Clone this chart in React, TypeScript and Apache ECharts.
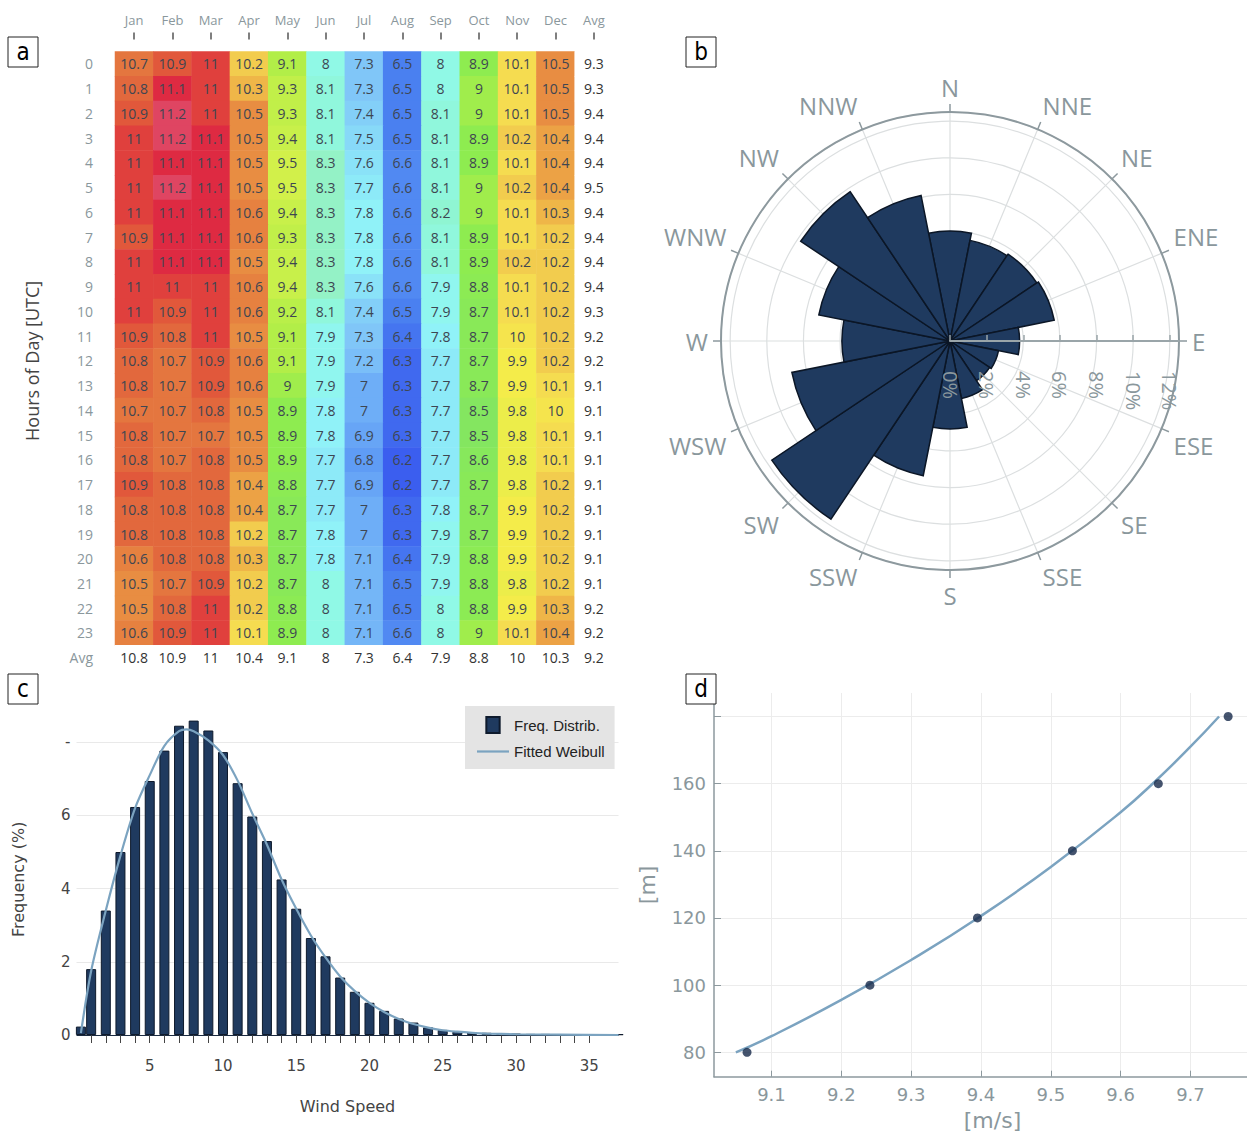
import React, { useEffect, useRef } from 'react';
import * as echarts from 'echarts';

// ---------- Panel a: hourly x monthly mean wind speed ----------
const months = ['Jan', 'Feb', 'Mar', 'Apr', 'May', 'Jun', 'Jul', 'Aug', 'Sep', 'Oct', 'Nov', 'Dec'];
const monthCols = [...months, 'Avg'];
const hourRows = ['0', '1', '2', '3', '4', '5', '6', '7', '8', '9', '10', '11', '12', '13', '14', '15', '16', '17', '18', '19', '20', '21', '22', '23', 'Avg'];

const speedByHour: number[][] = [
  [10.7, 10.9, 11, 10.2, 9.1, 8, 7.3, 6.5, 8, 8.9, 10.1, 10.5],
  [10.8, 11.1, 11, 10.3, 9.3, 8.1, 7.3, 6.5, 8, 9, 10.1, 10.5],
  [10.9, 11.2, 11, 10.5, 9.3, 8.1, 7.4, 6.5, 8.1, 9, 10.1, 10.5],
  [11, 11.2, 11.1, 10.5, 9.4, 8.1, 7.5, 6.5, 8.1, 8.9, 10.2, 10.4],
  [11, 11.1, 11.1, 10.5, 9.5, 8.3, 7.6, 6.6, 8.1, 8.9, 10.1, 10.4],
  [11, 11.2, 11.1, 10.5, 9.5, 8.3, 7.7, 6.6, 8.1, 9, 10.2, 10.4],
  [11, 11.1, 11.1, 10.6, 9.4, 8.3, 7.8, 6.6, 8.2, 9, 10.1, 10.3],
  [10.9, 11.1, 11.1, 10.6, 9.3, 8.3, 7.8, 6.6, 8.1, 8.9, 10.1, 10.2],
  [11, 11.1, 11.1, 10.5, 9.4, 8.3, 7.8, 6.6, 8.1, 8.9, 10.2, 10.2],
  [11, 11, 11, 10.6, 9.4, 8.3, 7.6, 6.6, 7.9, 8.8, 10.1, 10.2],
  [11, 10.9, 11, 10.6, 9.2, 8.1, 7.4, 6.5, 7.9, 8.7, 10.1, 10.2],
  [10.9, 10.8, 11, 10.5, 9.1, 7.9, 7.3, 6.4, 7.8, 8.7, 10, 10.2],
  [10.8, 10.7, 10.9, 10.6, 9.1, 7.9, 7.2, 6.3, 7.7, 8.7, 9.9, 10.2],
  [10.8, 10.7, 10.9, 10.6, 9, 7.9, 7, 6.3, 7.7, 8.7, 9.9, 10.1],
  [10.7, 10.7, 10.8, 10.5, 8.9, 7.8, 7, 6.3, 7.7, 8.5, 9.8, 10],
  [10.8, 10.7, 10.7, 10.5, 8.9, 7.8, 6.9, 6.3, 7.7, 8.5, 9.8, 10.1],
  [10.8, 10.7, 10.8, 10.5, 8.9, 7.7, 6.8, 6.2, 7.7, 8.6, 9.8, 10.1],
  [10.9, 10.8, 10.8, 10.4, 8.8, 7.7, 6.9, 6.2, 7.7, 8.7, 9.8, 10.2],
  [10.8, 10.8, 10.8, 10.4, 8.7, 7.7, 7, 6.3, 7.8, 8.7, 9.9, 10.2],
  [10.8, 10.8, 10.8, 10.2, 8.7, 7.8, 7, 6.3, 7.9, 8.7, 9.9, 10.2],
  [10.6, 10.8, 10.8, 10.3, 8.7, 7.8, 7.1, 6.4, 7.9, 8.8, 9.9, 10.2],
  [10.5, 10.7, 10.9, 10.2, 8.7, 8, 7.1, 6.5, 7.9, 8.8, 9.8, 10.2],
  [10.5, 10.8, 11, 10.2, 8.8, 8, 7.1, 6.5, 8, 8.8, 9.9, 10.3],
  [10.6, 10.9, 11, 10.1, 8.9, 8, 7.1, 6.6, 8, 9, 10.1, 10.4],
];
const hourAvg = [9.3, 9.3, 9.4, 9.4, 9.4, 9.5, 9.4, 9.4, 9.4, 9.4, 9.3, 9.2, 9.2, 9.1, 9.1, 9.1, 9.1, 9.1, 9.1, 9.1, 9.1, 9.1, 9.2, 9.2];
const monthAvg = [10.8, 10.9, 11, 10.4, 9.1, 8, 7.3, 6.4, 7.9, 8.8, 10, 10.3];
const overallAvg = 9.2;

// ---------- Panel b: wind rose ----------
const directions = ['N', 'NNE', 'NE', 'ENE', 'E', 'ESE', 'SE', 'SSE', 'S', 'SSW', 'SW', 'WSW', 'W', 'WNW', 'NW', 'NNW'];
const directionFreq = [6.0, 5.6, 5.7, 5.8, 3.8, 2.7, 2.6, 3.2, 4.8, 7.5, 11.7, 8.8, 5.9, 7.3, 9.8, 8.1];

// ---------- Panel c: wind speed distribution ----------
const windSpeedBins = [0.3, 1, 2, 3, 4, 5, 6, 7, 8, 9, 10, 11, 12, 13, 14, 15, 16, 17, 18, 19, 20, 21, 22, 23, 24, 25, 26, 27, 28, 29, 30, 31, 32, 33, 34, 35, 36, 37];
const windSpeedFreq = [0.23, 1.8, 3.4, 5.0, 6.23, 6.94, 7.77, 8.45, 8.59, 8.32, 7.73, 6.88, 5.97, 5.3, 4.25, 3.45, 2.65, 2.15, 1.57, 1.18, 0.88, 0.66, 0.45, 0.34, 0.21, 0.14, 0.09, 0.07, 0.06, 0.05, 0.04, 0.03, 0.03, 0.02, 0.02, 0.02, 0.02, 0.02];
const weibullSpeed = [0.3, 1, 2, 3, 4, 5, 6, 7, 7.5, 8, 9, 10, 11, 12, 13, 14, 15, 16, 17, 18, 19, 20, 21, 22, 23, 24, 25, 26, 27, 28, 30, 33, 37];
const weibullFreq = [0.05, 1.75, 3.4, 4.9, 6.2, 7.1, 7.9, 8.3, 8.35, 8.3, 8.05, 7.65, 6.95, 6.05, 5.2, 4.25, 3.45, 2.72, 2.12, 1.6, 1.2, 0.88, 0.63, 0.44, 0.3, 0.2, 0.13, 0.09, 0.06, 0.04, 0.02, 0.01, 0.0];
const histMinorTicks = [1, 2, 3, 4, 5, 6, 7, 8, 9, 10, 11, 12, 13, 14, 15, 16, 17, 18, 19, 20, 21, 22, 23, 24, 25, 26, 27, 28, 29, 30, 31, 32, 33, 34, 35];
const histLabels = [5, 10, 15, 20, 25, 30, 35];
const freqTicks = [0, 2, 4, 6, 8];

// ---------- Panel d: wind speed vs height ----------
const meanSpeed = [9.065, 9.241, 9.395, 9.531, 9.654, 9.754];
const heightM = [80, 100, 120, 140, 160, 180];
const fitSpeed = [9.049, 9.1, 9.2, 9.3, 9.4, 9.5, 9.6, 9.65, 9.7, 9.741];
const fitHeight = [80, 84.8, 95.6, 107.5, 120.6, 135.2, 151.5, 160.8, 171, 180];
const speedTicks = [9.1, 9.2, 9.3, 9.4, 9.5, 9.6, 9.7];
const heightTicks = [80, 100, 120, 140, 160, 180];
const heightLabels = [80, 100, 120, 140, 160];

// ---------- colour scale for the heatmap ----------
const colorStops: [number, string][] = [
  [6.2, '#3b5eef'], [6.5, '#4a80f0'], [6.8, '#5f9cf5'], [7.0, '#6eaef7'], [7.3, '#80c6f8'],
  [7.6, '#8ae2f8'], [7.8, '#90f2f8'], [8.0, '#90f9e6'], [8.2, '#8ff5d2'], [8.35, '#96f0c0'],
  [8.5, '#84e660'], [8.9, '#8eec50'], [9.1, '#b2ee48'], [9.4, '#c8f04a'], [9.6, '#dcf04a'],
  [9.9, '#f4ec4a'], [10.1, '#f5dc50'], [10.2, '#f2cc4e'], [10.3, '#efb648'], [10.5, '#e88d42'],
  [10.7, '#e4763f'], [10.8, '#e2683d'], [10.9, '#e1583b'], [11.0, '#e0403d'], [11.1, '#de2a42'], [11.2, '#df4562'],
];
const SCALE_MIN = 6.2;
const SCALE_MAX = 11.2;
function hexToRgb(h: string) {
  return [parseInt(h.slice(1, 3), 16), parseInt(h.slice(3, 5), 16), parseInt(h.slice(5, 7), 16)];
}
function colorFor(v: number) {
  if (v <= colorStops[0][0]) return colorStops[0][1];
  for (let i = 1; i < colorStops.length; i++) {
    const [v1, c1] = colorStops[i];
    const [v0, c0] = colorStops[i - 1];
    if (v <= v1 + 1e-9) {
      const t = Math.min(1, (v - v0) / (v1 - v0));
      const a = hexToRgb(c0);
      const b = hexToRgb(c1);
      const m = a.map((x, k) => Math.round(x + (b[k] - x) * t));
      return `rgb(${m[0]},${m[1]},${m[2]})`;
    }
  }
  return colorStops[colorStops.length - 1][1];
}
// evenly spaced palette (0.05 steps) for the continuous visualMap
function buildPalette() {
  const out: string[] = [];
  const n = Math.round((SCALE_MAX - SCALE_MIN) / 0.05);
  for (let i = 0; i <= n; i++) out.push(colorFor(SCALE_MIN + i * 0.05));
  return out;
}

const GRAY = '#8a979c';
const CENTER = [950, 341];
const ROSE_R = 229;

function buildOption() {
  const heatData: number[][] = [];
  speedByHour.forEach((row, r) => {
    row.forEach((v, c) => heatData.push([c, r, v]));
  });
  const avgData: number[][] = [];
  hourAvg.forEach((v, r) => avgData.push([12, r, v]));
  monthAvg.forEach((v, c) => avgData.push([c, 24, v]));
  avgData.push([12, 24, overallAvg]);

  const boxes = [
    { t: 'a', x: 8, y: 37 },
    { t: 'b', x: 686, y: 37 },
    { t: 'c', x: 8, y: 674 },
    { t: 'd', x: 686, y: 674 },
  ];
  const graphic: any[] = [];
  boxes.forEach((b) => {
    graphic.push({
      type: 'rect', shape: { x: b.x, y: b.y, width: 30, height: 30 },
      style: { fill: '#fff', stroke: '#222', lineWidth: 1 }, z: 100,
    });
    graphic.push({
      type: 'text', x: b.x + 15, y: b.y + 15, z: 101,
      style: { text: b.t, align: 'center', verticalAlign: 'middle', font: '24px "DejaVu Sans Condensed"', fill: '#000' },
    });
  });

  return {
    animation: false,
    backgroundColor: '#ffffff',
    textStyle: { fontFamily: 'Open Sans' },
    graphic,
    visualMap: [
      {
        type: 'continuous', show: false, seriesIndex: 0, dimension: 2,
        min: SCALE_MIN, max: SCALE_MAX,
        inRange: { color: buildPalette() },
      },
      {
        type: 'continuous', show: false, seriesIndex: 1, dimension: 2,
        min: 0, max: 20,
        inRange: { color: ['#ffffff', '#ffffff'] },
      },
    ],
    grid: [
      { left: 115, top: 51.6, width: 498, height: 618.5 },
      { left: 76.5, top: 705.6, width: 542, height: 329.4 },
      { left: 714, top: 693, width: 533, height: 383.7 },
    ],
    legend: {
      data: [
        { name: 'Freq. Distrib.', icon: 'path://M0 0H10V12H0Z' },
        { name: 'Fitted Weibull', icon: 'path://M0 0H32V2.2H0Z' },
      ],
      orient: 'vertical',
      left: 465, top: 706,
      itemWidth: 32, itemHeight: 16, itemGap: 10,
      padding: [10, 10, 10, 12],
      backgroundColor: '#e4e4e4',
      selectedMode: false,
      textStyle: { fontSize: 15, color: '#222', fontFamily: 'Liberation Sans' },
    },
    xAxis: [
      {
        gridIndex: 0, type: 'category', data: monthCols, position: 'top', offset: 12,
        axisLine: { show: false },
        axisTick: { show: true, alignWithLabel: true, length: 7, lineStyle: { color: '#555', width: 1.5 } },
        axisLabel: { color: GRAY, fontSize: 13, margin: 13 },
        splitLine: { show: false },
      },
      {
        gridIndex: 1, type: 'value', min: 0, max: 37, offset: 11,
        axisLine: { show: false },
        axisTick: { show: true, customValues: histMinorTicks, length: 8, lineStyle: { color: '#444' } },
        axisLabel: { customValues: histLabels, color: '#444', fontSize: 15, margin: 12, fontFamily: 'DejaVu Sans' },
        splitLine: { show: false },
        name: 'Wind Speed', nameLocation: 'middle', nameGap: 52,
        nameTextStyle: { fontSize: 16, color: '#444', fontFamily: 'DejaVu Sans' },
      },
      {
        gridIndex: 2, type: 'value', min: 9.0177, max: 9.781,
        axisLine: { show: true, lineStyle: { color: '#8d999e', width: 1.5 } },
        axisTick: { show: true, inside: true, length: 6, customValues: speedTicks, lineStyle: { color: '#8d999e' } },
        axisLabel: { customValues: speedTicks, color: GRAY, fontSize: 18, margin: 9, fontFamily: 'DejaVu Sans', formatter: (v: number) => v.toFixed(1) },
        splitLine: { show: true, lineStyle: { color: '#ececec' } },
        name: '[m/s]', nameLocation: 'middle', nameGap: 33,
        nameTextStyle: { fontSize: 22, color: GRAY, fontFamily: 'DejaVu Sans', padding: [0, 0, 0, 24] },
      },
    ],
    yAxis: [
      {
        gridIndex: 0, type: 'category', data: hourRows, inverse: true,
        axisLine: { show: false }, axisTick: { show: false },
        axisLabel: { color: GRAY, fontSize: 14, margin: 22 },
        splitLine: { show: false },
        name: 'Hours of Day [UTC]', nameLocation: 'middle', nameGap: 74,
        nameTextStyle: { fontSize: 18, color: '#444' },
      },
      {
        gridIndex: 1, type: 'value', min: 0, max: 9,
        axisLine: { show: false },
        axisTick: { show: false, customValues: freqTicks },
        axisLabel: { customValues: freqTicks, color: '#444', fontSize: 15, margin: 6, fontFamily: 'DejaVu Sans', formatter: (v: number) => (v === 8 ? '-' : String(v)) },
        splitLine: { show: true, lineStyle: { color: ['#1a2a40', '#e9e9e9', '#e9e9e9', '#e9e9e9', '#e9e9e9'], width: 1 } },
        name: 'Frequency (%)', nameLocation: 'middle', nameGap: 50,
        nameTextStyle: { fontSize: 16, color: '#444', fontFamily: 'DejaVu Sans', padding: [0, 18, 0, 0] },
      },
      {
        gridIndex: 2, type: 'value', min: 72.73, max: 187.0,
        axisLine: { show: true, lineStyle: { color: '#8d999e', width: 1.5 } },
        axisTick: { show: true, inside: true, length: 7, customValues: heightTicks, lineStyle: { color: '#8d999e' } },
        axisLabel: { customValues: heightLabels, color: GRAY, fontSize: 18, margin: 8, fontFamily: 'DejaVu Sans' },
        splitLine: { show: true, lineStyle: { color: '#ececec' } },
        name: '[m]', nameLocation: 'middle', nameGap: 56,
        nameTextStyle: { fontSize: 22, color: GRAY, fontFamily: 'DejaVu Sans' },
      },
    ],
    polar: [
      { center: CENTER, radius: ROSE_R },
      { center: CENTER, radius: ROSE_R },
      { center: CENTER, radius: ROSE_R },
    ],
    angleAxis: [
      {
        polarIndex: 0, type: 'category', data: directions, startAngle: 101.25, clockwise: true,
        boundaryGap: true, show: false,
      },
      {
        polarIndex: 1, type: 'value', min: 0, max: 360, interval: 22.5, startAngle: 90, clockwise: true,
        axisLine: { show: true, lineStyle: { color: '#8d999e', width: 2 } },
        axisTick: { show: true, length: 8, lineStyle: { color: '#8d999e', width: 1.5 } },
        axisLabel: {
          color: GRAY, fontSize: 24, margin: 13,
          formatter: (v: number) => directions[Math.round(v / 22.5) % 16],
        },
        splitLine: { show: true, lineStyle: { color: '#dcdfe0', width: 1.2 } },
      },
      {
        polarIndex: 2, type: 'value', min: 0, max: 360, startAngle: 0, show: false,
      },
    ],
    radiusAxis: [
      { polarIndex: 0, type: 'value', min: 0, max: 12.5, show: false },
      {
        polarIndex: 1, type: 'value', min: 0, max: 12.5, interval: 2,
        axisLine: { show: false }, axisTick: { show: false }, axisLabel: { show: false },
        splitLine: { show: true, lineStyle: { color: '#dcdfe0', width: 1.2 } },
      },
      {
        polarIndex: 2, type: 'value', min: 0, max: 12.5, interval: 2, z: 10,
        axisLine: { show: true, lineStyle: { color: '#9aa5a9', width: 2 } },
        axisTick: { show: true, inside: true, length: 6, lineStyle: { color: '#9aa5a9', width: 1.5 } },
        axisLabel: {
          show: true, rotate: -90, margin: -30, align: 'left', verticalAlign: 'middle',
          color: GRAY, fontSize: 20,
          showMaxLabel: false, formatter: (v: number) => `${v}%`,
        },
        splitLine: { show: false },
      },
    ],
    series: [
      {
        type: 'heatmap', xAxisIndex: 0, yAxisIndex: 0, data: heatData,
        label: { show: true, fontSize: 14, color: '#3e4652', formatter: (p: any) => String(p.value[2]) },
        emphasis: { disabled: true },
      },
      {
        type: 'heatmap', xAxisIndex: 0, yAxisIndex: 0, data: avgData,
        label: { show: true, fontSize: 14, color: '#333', formatter: (p: any) => String(p.value[2]) },
        emphasis: { disabled: true },
      },
      {
        type: 'bar', name: 'Direction', coordinateSystem: 'polar', polarIndex: 0,
        data: directionFreq, barCategoryGap: '0%', barGap: '0%',
        itemStyle: { color: '#1f3a5f', borderColor: '#0b1626', borderWidth: 1.5 },
        z: 3,
      },
      {
        type: 'bar', name: 'Freq. Distrib.', xAxisIndex: 1, yAxisIndex: 1,
        data: windSpeedBins.map((x, i) => [x, windSpeedFreq[i]]),
        barWidth: 10,
        itemStyle: { color: '#1f3a5f', borderColor: '#0e1a2c', borderWidth: 1 },
        z: 2,
      },
      {
        type: 'line', name: 'Fitted Weibull', xAxisIndex: 1, yAxisIndex: 1,
        data: weibullSpeed.map((x, i) => [x, weibullFreq[i]]),
        smooth: 0.3, symbol: 'none', showSymbol: false,
        lineStyle: { color: '#7ba3c0', width: 2.2 }, itemStyle: { color: '#7ba3c0' },
        z: 4,
      },
      {
        type: 'line', name: 'Height fit', xAxisIndex: 2, yAxisIndex: 2,
        data: fitSpeed.map((x, i) => [x, fitHeight[i]]),
        smooth: 0.5, symbol: 'none', showSymbol: false,
        lineStyle: { color: '#7ba3c0', width: 2.5 },
        z: 3,
      },
      {
        type: 'scatter', name: 'Height mean', xAxisIndex: 2, yAxisIndex: 2,
        data: meanSpeed.map((x, i) => [x, heightM[i]]),
        symbolSize: 9, itemStyle: { color: '#16294a' },
        z: 4,
      },
    ],
  };
}

export default function App() {
  const ref = useRef<HTMLDivElement>(null);
  useEffect(() => {
    const chart = echarts.init(ref.current as HTMLDivElement, null, { renderer: 'svg' });
    chart.setOption(buildOption() as any);
    return () => chart.dispose();
  }, []);
  return (
    <div
      ref={ref}
      style={{ position: 'absolute', left: 0, top: 0, width: 1247, height: 1135, background: '#fff' }}
    />
  );
}
